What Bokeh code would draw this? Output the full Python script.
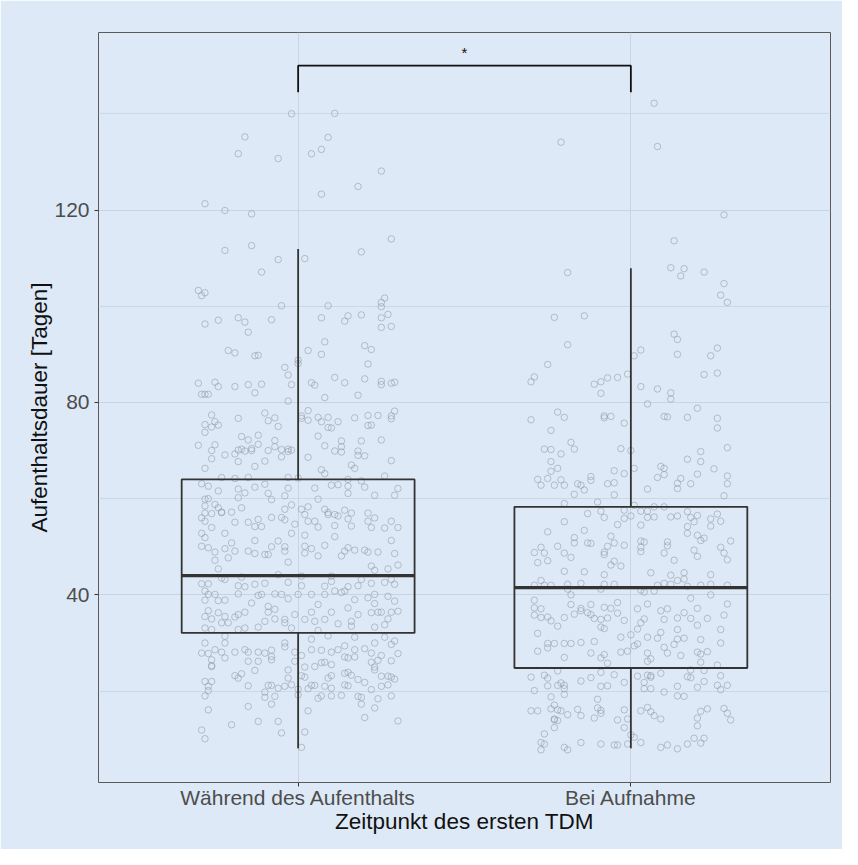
from bokeh.plotting import figure
from bokeh.models import FixedTicker, Range1d
from bokeh.core.properties import value
from bokeh.embed import file_html
from bokeh.resources import INLINE

categories = ["Während des Aufenthalts", "Bei Aufnahme"]
x_title = "Zeitpunkt des ersten TDM"
y_title = "Aufenthaltsdauer [Tagen]"
y_ticks = [40, 80, 120]
y_minor = [20, 60, 100, 140]

# box statistics (days)
q1 = [32.1, 24.8]
median = [44.0, 41.5]
q3 = [64.0, 58.3]
whisk_lo = [8.1, 8.1]
whisk_hi = [111.9, 107.9]

# significance bracket
sig_level = 150.0
sig_drop = 144.5
sig_label = "*"

# jittered observations: (jitter offset, days)
points_1 = [
    (-0.02,140.0),(0.11,140.1),(-0.16,135.2),(0.09,135.1),(-0.18,131.7),(0.07,132.6),(0.04,131.7),(-0.06,130.7),
    (0.25,128.1),(0.18,124.9),(0.07,123.3),(-0.28,121.3),(-0.22,119.9),(-0.14,119.2),(0.28,114.0),(-0.14,112.6),
    (-0.22,111.6),(0.19,111.3),(-0.06,109.7),(0.02,109.9),(-0.11,107.1),(-0.30,103.3),(-0.28,102.8),(-0.29,102.2),
    (0.26,101.7),(0.25,100.8),(-0.05,100.1),(0.09,100.1),(0.25,99.9),(0.27,98.3),(0.07,97.6),(0.15,98.0),(0.19,98.2),
    (0.25,97.6),(0.14,96.9),(-0.18,97.6),(-0.16,96.7),(-0.08,97.2),(-0.24,97.1),(-0.28,96.3),(0.25,95.6),(0.28,95.8),
    (-0.15,94.6),
    (0.08,92.6),(-0.21,90.8),(-0.19,90.3),(0.03,90.8),(0.07,90.0),(0.20,91.8),(0.22,91.0),(-0.13,89.7),(-0.12,89.8),
    (0.0,88.8),(0.0,88.1),(0.21,88.0),(-0.04,87.3),(-0.03,85.7),
    (-0.30,84.0),(-0.25,84.2),(-0.24,83.3),(-0.19,83.3),(-0.15,83.7),(-0.11,83.8),(-0.02,83.7),(0.04,84.1),(0.05,83.6),
    (0.11,85.2),(0.14,84.1),(0.20,84.9),(0.25,84.4),(0.25,83.7),(0.28,84.0),(0.29,84.2),
    (-0.29,81.7),(-0.28,81.7),(-0.27,81.7),(-0.13,82.0),(0.08,81.0),(0.18,81.5),(-0.03,80.3),
    (-0.26,77.4),(-0.25,76.0),(-0.28,75.4),(-0.26,74.9),(-0.24,75.3),(-0.28,73.8),(-0.18,76.7),(-0.10,77.8),(-0.09,76.2),
    (-0.07,76.8),(-0.06,75.0),
    (0.03,78.3),(0.01,77.2),(0.01,76.7),(0.03,76.3),(0.06,76.9),(0.07,76.0),(0.09,76.9),(0.12,76.0),(0.09,74.8),(0.10,74.7),
    (0.17,76.8),(0.21,77.3),(0.24,77.3),(0.28,77.2),(0.29,78.2),(0.28,76.6),(0.21,75.2),(0.22,75.3),
    (-0.30,71.1),(-0.25,71.2),(-0.26,70.0),(-0.26,68.3),(-0.28,66.3),
    (-0.17,72.9),(-0.15,72.2),(-0.12,73.2),(-0.22,69.1),(-0.19,69.3),(-0.18,70.1),(-0.17,70.3),(-0.16,69.9),(-0.14,70.4),
    (-0.14,70.0),(-0.12,71.3),(-0.09,70.0),(-0.07,72.1),(-0.07,70.8),(-0.05,70.2),(-0.03,70.3),(-0.03,69.8),(-0.02,70.1),
    (-0.05,68.7),(-0.10,67.8),(-0.13,66.7),(-0.18,67.7),
    (0.06,73.0),(0.08,71.0),(0.13,72.0),(0.13,70.8),(0.13,69.7),(0.11,69.9),(0.19,72.0),(0.25,72.2),(0.18,69.9),(0.18,69.0),
    (0.20,68.9),(0.03,68.6),(0.28,67.9),(0.07,66.0),(0.08,65.2),(0.16,67.0),(0.17,66.3),(0.26,64.7),
    (-0.29,63.1),(-0.27,62.6),(-0.23,64.4),(-0.19,64.2),(-0.15,64.4),(-0.03,64.4),(0.0,64.3),
    (-0.24,61.6),(-0.18,62.0),(-0.13,62.4),(-0.10,63.0),(-0.03,62.2),(0.05,62.2),(0.10,62.8),(0.12,62.9),(0.15,62.6),
    (0.15,64.0),(0.19,63.7),(0.20,62.4),(0.30,62.1),(0.15,61.1),(0.23,60.7),(0.29,60.7),
    (-0.28,59.9),(-0.27,60.0),(-0.28,58.5),(-0.25,58.8),(-0.24,58.1),(-0.23,57.2),(-0.28,57.0),(-0.26,56.9),(-0.18,60.2),
    (-0.16,61.2),(-0.17,58.1),(-0.20,57.2),(-0.09,61.1),(-0.08,59.8),(-0.04,60.6),(-0.02,58.7),(-0.04,57.8),(0.01,57.8),
    (0.03,58.3),(0.06,59.9),(0.08,57.8),(0.09,57.1),(0.11,56.7),(0.14,57.6),(0.16,57.0),(0.21,57.0),
    (-0.29,56.0),(-0.28,55.3),(-0.26,54.0),(-0.29,52.8),(-0.28,51.9),(-0.29,50.1),(-0.27,49.8),(-0.25,48.9),(-0.25,47.2),
    (-0.21,47.7),(-0.23,57.1),(-0.19,55.1),(-0.22,52.8),(-0.15,55.1),(-0.12,55.7),(-0.13,54.2),(-0.11,54.2),(-0.08,56.1),
    (-0.05,56.1),(-0.04,55.6),(-0.13,51.3),(-0.20,50.8),(-0.22,49.6),(-0.19,49.1),(-0.15,49.1),(-0.13,48.6),(-0.10,48.4),
    (-0.09,48.4),(-0.08,50.0),(-0.06,51.2),(-0.04,49.1),(-0.04,50.0),(-0.03,46.8),(-0.02,52.8),(-0.01,54.7),
    (0.02,56.7),(0.03,55.3),(0.02,52.4),(0.05,55.3),(0.06,54.1),(0.02,50.1),(0.02,48.7),(0.04,49.6),(0.06,48.1),(0.08,50.3),
    (0.11,54.4),(0.11,52.1),(0.09,56.7),(0.12,56.4),(0.15,55.8),(0.16,54.3),(0.13,48.1),(0.14,49.1),(0.15,49.8),(0.17,49.3),
    (0.21,55.3),(0.22,54.0),(0.23,56.0),(0.26,53.9),(0.28,55.3),(0.30,54.0),(0.28,51.3),(0.20,49.3),(0.21,48.9),(0.24,48.9),
    (0.29,48.6),(0.30,46.2),(0.22,46.0),(0.27,45.4),(0.23,45.1),
    (-0.29,42.3),(-0.27,42.3),(-0.28,40.8),(-0.27,40.1),(-0.28,38.9),(-0.25,40.1),(-0.24,38.8),(-0.22,38.9),(-0.27,36.7),
    (-0.28,35.5),(-0.26,35.0),(-0.28,33.1),(-0.26,32.8),(-0.24,45.4),(-0.23,43.5),(-0.22,43.2),(-0.24,36.3),(-0.22,35.5),
    (-0.23,34.2),(-0.21,34.2),(-0.19,35.4),(-0.18,35.9),(-0.16,36.4),(-0.18,40.2),(-0.18,41.9),(-0.17,43.7),(-0.16,41.7),
    (-0.14,38.3),(-0.13,42.2),(-0.12,39.9),(-0.11,40.1),(-0.10,42.4),(-0.09,37.6),(-0.09,36.4),(-0.10,34.5),(-0.12,33.3),
    (-0.16,33.1),(-0.18,32.8),(-0.07,40.2),(-0.07,37.0),(-0.07,35.0),(-0.06,44.2),(-0.05,40.1),(-0.03,39.2),(-0.03,42.6),
    (-0.04,34.2),(-0.04,34.9),(-0.02,33.1),(-0.01,35.9),(0.01,43.9),(0.01,41.9),(0.0,40.1),(0.02,34.9),(0.04,40.1),
    (0.04,36.4),(0.05,34.5),(0.06,38.0),(0.06,32.6),(0.08,41.8),(0.08,40.1),(0.08,34.9),(0.10,43.9),(0.10,42.8),(0.10,36.4),
    (0.11,40.8),(0.12,34.0),(0.13,40.5),(0.14,40.8),(0.15,37.3),(0.15,41.7),(0.16,33.5),(0.16,34.5),(0.17,39.0),(0.18,35.9),
    (0.18,41.9),(0.19,43.2),(0.21,39.4),(0.22,36.3),(0.22,42.4),(0.23,40.1),(0.23,38.2),(0.23,33.3),(0.24,36.4),(0.25,36.4),
    (0.26,33.8),(0.26,42.6),(0.27,39.7),(0.27,35.0),(0.28,36.4),(0.29,38.7),(0.29,42.2),(0.30,36.6),(0.28,43.2),
    (-0.28,30.0),(-0.29,27.9),(-0.27,27.8),(-0.26,26.5),(-0.26,25.3),(-0.25,28.6),(-0.23,28.1),(-0.22,30.0),(-0.22,26.9),
    (-0.22,31.4),(-0.19,28.1),(-0.16,28.6),(-0.15,28.1),(-0.12,28.1),(-0.10,27.9),(-0.08,28.5),(-0.08,27.2),(-0.04,30.0),
    (-0.04,29.2),(-0.01,28.1),(0.01,27.4),(0.04,28.6),(0.07,28.5),(0.04,30.8),(0.09,31.5),(0.10,28.1),(0.12,28.6),(0.14,29.4),
    (0.17,28.6),(0.17,31.2),(0.20,28.8),(0.23,30.0),(0.22,27.9),(0.26,31.2),(0.28,29.7),(0.29,30.4),(0.30,27.8),(0.28,26.3),
    (0.25,27.4),(0.24,26.4),(0.22,26.0),(0.15,26.9),(0.14,27.1),(0.17,27.1),(0.10,25.5),(0.08,26.0),(0.07,25.9),(0.05,25.1),
    (0.02,25.0),(-0.01,26.2),(-0.03,24.4),(-0.08,26.5),(-0.12,26.2),(-0.15,26.2),(-0.26,25.1),(-0.28,22.0),(-0.26,22.0),
    (-0.27,21.0),(-0.19,23.2),(-0.18,22.7),(-0.17,23.6),(-0.13,24.3),(-0.15,21.1),(-0.09,21.2),(-0.08,21.2),(-0.03,22.7),
    (-0.04,21.0),(-0.06,20.6),(-0.02,21.3),(0.01,23.2),(0.02,22.9),(0.0,20.4),(0.03,20.5),(0.04,21.2),(0.05,21.2),(0.09,22.7),
    (0.10,23.2),(0.08,21.0),(0.10,20.6),(0.14,23.7),(0.15,23.9),(0.16,23.3),(0.14,21.3),(0.15,21.1),(0.18,22.4),(0.20,21.8),
    (0.23,24.4),(0.23,25.0),(0.25,23.1),(0.27,23.1),(0.28,22.9),(0.29,22.5),(0.27,21.3),(0.25,21.0),
    (-0.28,19.0),(-0.27,20.1),(-0.10,19.8),(-0.10,18.7),(-0.07,18.9),(-0.08,17.3),(0.0,19.2),(0.06,18.5),(0.07,19.0),
    (0.10,19.0),(0.13,19.1),(0.18,18.9),(0.19,18.7),(0.19,17.3),(0.22,20.3),(0.24,18.4),(0.23,16.5),(0.28,19.0),(0.03,15.9),
    (-0.15,16.8),(-0.27,16.1),(0.20,14.5),(0.30,13.8),(-0.12,13.7),(-0.06,13.7),(-0.20,13.0),(-0.29,11.9),(-0.28,10.1),
    (-0.05,11.3),(0.02,11.5),(0.01,8.3),
]

points_2 = [
    (0.07,142.2),(-0.21,134.1),(0.08,133.2),(0.28,119.0),(0.13,113.6),(0.12,108.0),(0.16,107.8),(0.15,106.3),(0.22,107.1),
    (-0.19,107.0),(0.28,104.7),(0.27,102.3),(0.29,100.8),(-0.23,97.7),(-0.14,98.0),
    (0.13,94.2),(0.14,93.1),(-0.19,92.0),(0.03,90.9),(0.01,89.7),(0.14,90.0),(0.26,91.3),(0.24,89.7),(-0.25,87.9),
    (-0.30,84.3),(-0.29,85.3),(-0.11,83.8),(-0.09,84.3),(-0.07,85.1),(-0.04,85.2),(-0.01,85.9),(-0.09,81.9),(0.03,83.3),
    (0.08,82.8),(0.12,82.0),(0.12,80.7),(0.22,85.8),(0.26,86.1),(0.05,79.7),(0.20,78.8),
    (-0.30,76.4),(-0.22,78.0),(-0.20,76.9),(-0.08,76.8),(-0.08,77.2),(-0.06,77.1),(-0.02,75.7),(-0.24,74.2),(0.10,77.1),
    (0.11,77.0),(0.17,76.9),(0.26,76.7),(0.26,74.7),
    (-0.26,70.3),(-0.24,70.2),(-0.18,71.7),(-0.17,70.3),(-0.21,69.3),(-0.03,70.4),(0.0,70.0),(-0.24,67.7),(-0.24,65.7),
    (-0.22,66.3),(0.21,69.8),(0.21,67.7),(0.17,68.2),(0.29,70.6),(0.25,66.2),
    (-0.28,64.0),(-0.27,62.8),(-0.25,64.2),(-0.23,62.8),(-0.21,63.9),(-0.20,62.8),(-0.16,63.1),(-0.15,62.8),(-0.14,61.8),
    (-0.12,64.6),(-0.12,63.8),(-0.07,63.1),(-0.05,63.3),(-0.05,65.8),(-0.02,65.2),(-0.17,60.9),(-0.05,60.8),(0.01,66.3),
    (0.05,62.0),(0.09,66.7),(0.10,66.3),(0.10,65.0),(0.08,64.4),(0.15,64.2),(0.14,63.2),(0.14,62.1),(0.18,63.1),(0.20,65.1),
    (0.29,64.7),(0.29,63.1),(0.28,60.6),
    (-0.20,59.0),(-0.10,59.3),(-0.09,57.4),(-0.02,57.6),(0.01,58.6),(0.03,57.4),(0.05,57.4),(0.07,58.3),(0.10,58.3),
    (0.17,57.3),(0.26,56.8),
    (-0.13,56.9),(-0.08,56.1),(-0.02,55.9),(0.0,56.4),(0.05,56.1),(0.07,56.2),(0.12,56.2),(0.14,56.4),(0.18,56.1),(0.20,56.5),
    (0.24,55.8),(0.27,55.3),(-0.20,55.2),(-0.04,54.6),(0.03,54.5),(0.17,54.2),(0.24,54.3),(0.19,55.2),
    (-0.25,53.1),(-0.14,53.4),(-0.06,52.2),(-0.17,51.9),(-0.17,50.8),(-0.13,50.8),(-0.12,50.7),(-0.05,50.8),(-0.02,50.3),
    (-0.07,50.1),(-0.08,48.9),(-0.08,48.4),(-0.22,50.1),(-0.20,48.7),(-0.27,49.9),(-0.29,48.8),(-0.26,48.7),(-0.28,46.7),
    (-0.25,47.1),(-0.18,47.8),(-0.05,47.0),(-0.06,46.2),(-0.03,46.0),(0.03,51.2),(0.04,51.0),(0.03,49.9),(0.03,49.0),
    (0.11,51.0),(0.11,50.2),(0.10,48.7),(0.13,47.2),(0.17,52.8),(0.20,52.4),(0.21,51.3),(0.22,51.8),(0.30,51.2),(0.27,49.9),
    (0.19,49.3),(0.20,48.0),(0.28,48.7),(0.29,47.3),(-0.20,44.9),(-0.14,44.8),(-0.08,44.2),(0.06,44.6),(0.12,44.1),
    (0.16,44.6),(0.24,44.2),(-0.27,43.0),(-0.29,42.0),(-0.26,42.0),(-0.24,42.0),(-0.19,42.2),(-0.15,42.4),(-0.08,42.2),
    (-0.05,42.2),(0.08,42.0),(0.10,42.4),(0.12,42.2),(0.14,43.0),(0.16,43.3),(0.17,41.8),(0.21,42.0),(0.24,42.2),(0.29,42.0),
    (-0.19,41.2),(-0.09,41.2),(0.03,41.0),(0.04,40.6),(0.07,40.8),(-0.18,40.0),(0.24,40.0),(-0.29,38.9),(-0.29,37.3),
    (-0.27,37.1),(-0.29,35.8),(-0.27,35.3),(-0.25,35.4),(-0.24,34.6),(-0.22,33.5),(-0.18,38.0),(-0.15,37.2),(-0.15,36.7),
    (-0.17,36.0),(-0.13,36.3),(-0.12,38.0),(-0.12,35.9),(-0.11,35.1),(-0.09,34.9),(-0.07,35.2),(-0.08,37.4),(-0.06,37.2),
    (-0.04,38.4),(-0.04,36.2),(-0.02,34.7),(-0.09,33.3),(-0.08,33.0),(-0.20,35.3),(-0.28,32.0),(-0.25,29.9),(-0.25,29.0),
    (-0.28,28.3),(-0.23,29.9),(-0.20,29.9),(-0.18,29.9),(-0.15,30.1),(-0.11,30.3),(-0.20,27.0),(-0.12,27.9),(-0.09,26.9),
    (-0.08,27.6),(-0.07,25.8),(-0.03,31.2),(-0.03,28.1),(-0.01,28.3),(0.0,31.7),(0.02,37.1),(0.02,32.9),(0.03,34.2),
    (0.04,35.0),(0.01,29.4),(0.02,29.8),(0.05,38.1),(0.05,31.2),(0.08,31.0),(0.09,32.2),(0.05,27.9),(0.06,26.7),(0.05,26.2),
    (0.09,36.7),(0.10,34.9),(0.11,37.1),(0.10,29.1),(0.11,27.9),(0.13,29.7),(0.14,32.8),(0.14,30.8),(0.16,31.0),(0.14,35.2),
    (0.16,36.3),(0.18,35.1),(0.15,27.4),(0.18,39.3),(0.20,37.2),(0.20,33.7),(0.21,30.7),(0.20,28.1),(0.21,27.7),(0.23,28.2),
    (0.21,26.0),(0.23,35.1),(0.27,32.8),(0.27,30.0),(0.28,35.8),(0.29,38.1),(0.26,25.4),
    (-0.22,24.2),(-0.30,22.9),(-0.26,23.3),(-0.25,22.7),(-0.25,21.1),(-0.29,20.1),(-0.22,21.2),(-0.21,21.7),(-0.20,21.2),
    (-0.20,20.5),(-0.20,19.3),(-0.15,22.1),(-0.12,22.8),(-0.09,23.9),(-0.09,21.0),(-0.07,21.1),(-0.05,23.4),(-0.02,21.8),
    (-0.24,18.8),(-0.10,18.3),(0.02,23.1),(0.04,21.8),(0.05,23.3),(0.06,22.9),(0.06,23.2),(0.09,23.7),(0.04,20.5),(0.06,20.5),
    (0.10,19.8),(0.14,21.0),(0.14,19.0),(0.16,18.9),(0.17,23.0),(0.18,22.8),(0.18,24.4),(0.22,24.3),(0.22,22.0),(0.20,20.8),
    (0.27,23.2),(0.26,21.2),(0.29,21.2),(0.27,20.3),
    (-0.30,15.9),(-0.28,15.9),(-0.24,16.3),(-0.23,17.1),(-0.22,16.1),(-0.21,15.9),(-0.23,14.0),(-0.23,14.2),(-0.22,13.9),
    (-0.23,12.4),(-0.19,15.1),(-0.16,16.2),(-0.15,14.9),(-0.11,14.4),(-0.10,16.5),(-0.09,16.0),(-0.09,15.4),(-0.04,14.0),
    (-0.02,16.1),(-0.01,14.2),(-0.02,12.4),(0.0,10.9),(-0.26,11.1),(-0.27,9.3),(-0.27,7.8),(-0.26,9.0),(-0.20,8.3),
    (-0.19,7.8),(-0.15,9.3),(-0.09,9.0),(-0.05,8.8),(-0.04,8.8),(-0.01,9.0),(0.01,10.4),(0.03,9.3),(0.03,15.9),(0.05,16.6),
    (0.06,15.7),(0.07,14.9),(0.09,14.2),(0.09,8.3),(0.11,8.8),(0.14,8.0),(0.17,9.0),(0.19,10.2),(0.21,9.2),(0.22,10.2),
    (0.20,12.8),(0.20,14.4),(0.21,15.8),(0.23,16.3),(0.28,16.4),(0.29,15.4),(0.30,14.0),
]

BG = "#dde9f6"
GRID = "#c7d4e1"
FONT = "Liberation Sans"

p = figure(width=842, height=849, output_backend="svg", toolbar_location=None,
           x_range=Range1d(0.4, 2.6), y_range=Range1d(1.0, 156.9))
p.min_border_left = 98
p.min_border_right = 12
p.min_border_top = 32
p.min_border_bottom = 67
p.background_fill_color = BG
p.border_fill_color = BG
p.outline_line_color = "#5a5a5a"
p.outline_line_width = 1

# points
for i, pts in enumerate([points_1, points_2]):
    xs = [i + 1 + d for d, _ in pts]
    ys = [v for _, v in pts]
    p.scatter(xs, ys, marker="circle", size=6.5, fill_color=None,
              line_color="#8e98a3", line_alpha=0.55, line_width=1)

# boxes
pos = [1, 2]
half = 0.35
p.quad(left=[x - half for x in pos], right=[x + half for x in pos], bottom=q1, top=q3,
       fill_color=None, line_color="#333333", line_width=1.8)
p.segment(x0=[x - half for x in pos], x1=[x + half for x in pos], y0=median, y1=median,
          line_color="#333333", line_width=3.2)
p.segment(x0=pos, x1=pos, y0=q3, y1=whisk_hi, line_color="#333333", line_width=1.8)
p.segment(x0=pos, x1=pos, y0=whisk_lo, y1=q1, line_color="#333333", line_width=1.8)

# significance bracket
p.line(x=[pos[0], pos[0], pos[1], pos[1]], y=[sig_drop, sig_level, sig_level, sig_drop],
       line_color="#111111", line_width=1.8)
p.text(x=[(pos[0] + pos[1]) / 2], y=[sig_level + 1.0], text=[sig_label], text_align="center",
       text_baseline="bottom", text_font=value(FONT), text_font_size="15px", text_color="#111111")

# axes
p.xaxis.ticker = FixedTicker(ticks=pos)
p.xaxis.major_label_overrides = {1: categories[0], 2: categories[1]}
p.yaxis.ticker = FixedTicker(ticks=y_ticks, minor_ticks=y_minor)
for ax in [p.xaxis[0], p.yaxis[0]]:
    ax.axis_line_color = None
    ax.major_tick_line_color = "#333333"
    ax.major_tick_out = 4
    ax.major_tick_in = 0
    ax.minor_tick_line_color = None
    ax.major_label_text_font = FONT
    ax.major_label_text_font_size = "21px"
    ax.major_label_text_color = "#4d4d4d"
    ax.axis_label_text_font = FONT
    ax.axis_label_text_font_size = "22.5px"
    ax.axis_label_text_font_style = "normal"
    ax.axis_label_text_color = "#111111"
p.xaxis.axis_label = x_title
p.yaxis.axis_label = y_title
p.xaxis.major_label_standoff = -1
p.xaxis.axis_label_standoff = -3
p.yaxis.major_label_standoff = 5
p.yaxis.axis_label_standoff = -1

p.xgrid.grid_line_color = GRID
p.xgrid.grid_line_width = 1
p.ygrid.grid_line_color = GRID
p.ygrid.grid_line_width = 1
p.ygrid.minor_grid_line_color = GRID
p.ygrid.minor_grid_line_width = 0.8

open("out.html", "w").write(file_html(p, INLINE))
